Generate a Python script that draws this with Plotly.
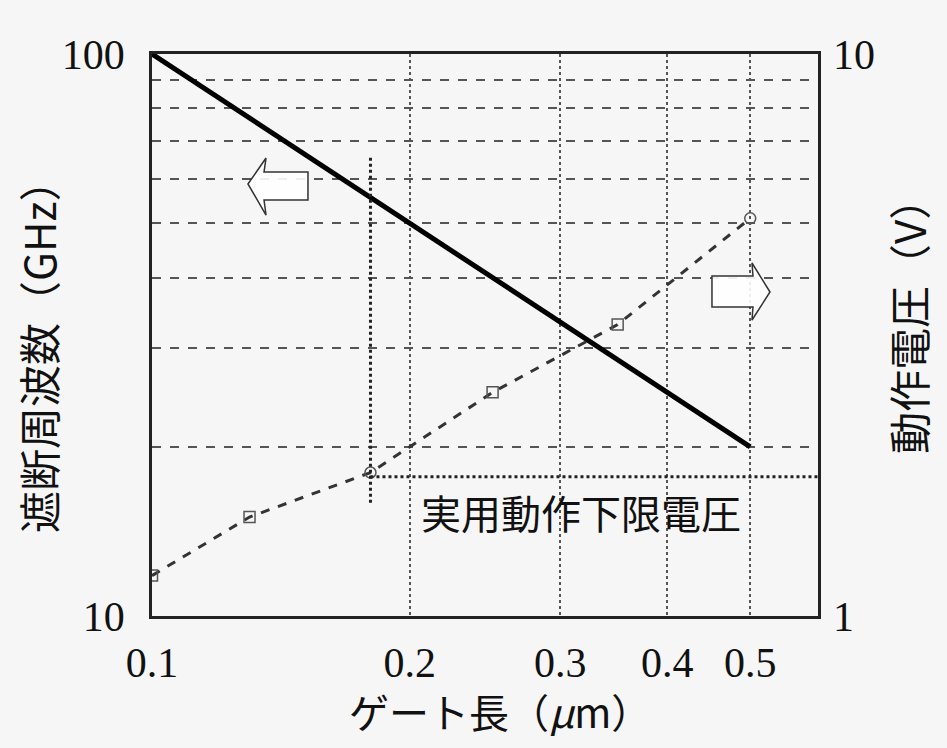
import plotly.graph_objects as go
import math

# ---- data ----
gate_len_ft = [0.1, 0.5]
cutoff_freq = [100, 20]

gate_len_v = [0.1, 0.13, 0.18, 0.25, 0.35, 0.5]
op_voltage = [1.18, 1.5, 1.8, 2.5, 3.3, 5.1]
marker_symbols = ["square-open", "square-open", "circle-open", "square-open", "square-open", "circle-open"]

limit_gate = [0.18, 0.18]
limit_gate_v = [1.59, 6.6]
limit_volt_x = [0.18, 0.6]
limit_volt = [1.77, 1.77]

x_ticks = [0.1, 0.2, 0.3, 0.4, 0.5]
x_tick_text = ["0.1", "0.2", "0.3", "0.4", "0.5"]
y_ticks = [10, 20, 30, 40, 50, 60, 70, 80, 90, 100]
y_tick_text = ["10", "", "", "", "", "", "", "", "", "100"]
y2_ticks = [1, 10]
y2_tick_text = ["1", "10"]

num_font = "Liberation Serif, Times New Roman, serif"
jp_font = "Noto Sans CJK JP, sans-serif"
bg = "#f6f6f6"

fig = go.Figure()

fig.add_trace(go.Scatter(
    x=gate_len_ft, y=cutoff_freq, mode="lines",
    line=dict(color="black", width=5), showlegend=False, yaxis="y"))

fig.add_trace(go.Scatter(
    x=gate_len_v, y=op_voltage, mode="lines+markers",
    line=dict(color="#333333", width=3, dash="dash"),
    marker=dict(symbol=marker_symbols, size=11, color="#555555",
                line=dict(color="#444444", width=1.5)),
    showlegend=False, yaxis="y2"))

fig.add_trace(go.Scatter(
    x=limit_gate, y=limit_gate_v, mode="lines",
    line=dict(color="#222222", width=3, dash="dot"), showlegend=False, yaxis="y2"))

fig.add_trace(go.Scatter(
    x=limit_volt_x, y=limit_volt, mode="lines",
    line=dict(color="#222222", width=3, dash="dot"), showlegend=False, yaxis="y2"))

# target screen positions of the plot area (page has an 8px body margin)
OFF = 8
x0, x1 = 152, 818
y0, y1 = 54, 616
W, H = 947 - 2 * OFF, 748 - 2 * OFF

def px(x, y):
    return ((x - x0) / (x1 - x0), (y1 - y) / (y1 - y0))

def path(points):
    s = ""
    for i, (x, y) in enumerate(points):
        a, b = px(x, y)
        s += ("M" if i == 0 else "L") + f"{a:.4f},{b:.4f} "
    return s + "Z"

left_arrow = [(248, 184), (266, 158), (264, 172), (308, 172), (308, 200), (264, 200), (266, 215)]
right_arrow = [(770, 292), (752, 263), (753, 276), (712, 276), (712, 307), (753, 307), (752, 320)]

shapes = []
for pts in (left_arrow, right_arrow):
    shapes.append(dict(type="path", xref="paper", yref="paper", path=path(pts),
                       line=dict(color="#333333", width=1.5), fillcolor="rgba(255,255,255,0.9)"))

def ann(text, sx, sy, size, angle=0):
    a, b = px(sx, sy)
    return dict(text=text, xref="paper", yref="paper", x=a, y=b,
                xanchor="center", yanchor="middle", showarrow=False, textangle=angle,
                font=dict(family=jp_font, size=size, color="#111111"))

fig.update_layout(
    width=W, height=H,
    margin=dict(l=x0 - OFF, r=W - (x1 - OFF), t=y0 - OFF, b=H - (y1 - OFF), autoexpand=False),
    paper_bgcolor=bg, plot_bgcolor=bg,
    xaxis=dict(type="log", range=[-1, math.log10(0.6)], tickvals=x_ticks, ticktext=x_tick_text,
               tickangle=0, automargin=False, ticklabelstandoff=8,
               showgrid=True, gridcolor="#555555", gridwidth=1.5, griddash="dot",
               showline=True, linecolor="#222222", linewidth=2.5, mirror=True,
               ticks="", tickfont=dict(family=num_font, size=42, color="#111111"),
               zeroline=False),
    yaxis=dict(type="log", range=[1, 2], tickvals=y_ticks, ticktext=y_tick_text,
               automargin=False, ticklabelstandoff=16,
               showgrid=True, gridcolor="#555555", gridwidth=1.5, griddash="dash",
               showline=True, linecolor="#222222", linewidth=2.5, mirror=True,
               ticks="", tickfont=dict(family=num_font, size=42, color="#111111"),
               zeroline=False),
    yaxis2=dict(type="log", range=[0, 1], tickvals=y2_ticks, ticktext=y2_tick_text,
                overlaying="y", side="right", showgrid=False, showline=False,
                automargin=False, ticklabelstandoff=14,
                ticks="", tickfont=dict(family=num_font, size=42, color="#111111"),
                zeroline=False),
    shapes=shapes,
    annotations=[
        ann("実用動作下限電圧", 581, 512, 40),
        ann("ゲート長（<i>μ</i>m）", 500, 711, 40),
        ann("遮断周波数（GHz）", 38, 347, 42, -90),
        ann("動作電圧（V）", 907, 316, 42, -90),
    ],
)

fig.write_html("out.html", post_script="document.body.style.background='" + bg + "';")
